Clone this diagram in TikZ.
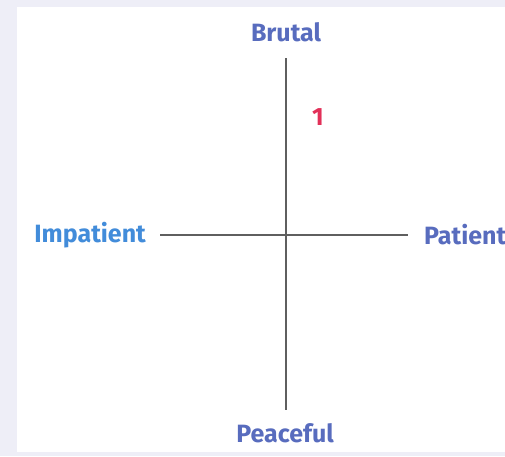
\documentclass[tikz,border=0pt]{standalone}
\usepackage{fontspec}
\setmainfont{Fira Sans}
\usepackage{tikz}
\usetikzlibrary{positioning}
\usepackage{xcolor}
\definecolor{axisblue}{RGB}{88,108,190}
\definecolor{skyblue}{RGB}{66,140,218}
\definecolor{markred}{RGB}{226,48,88}
\definecolor{framebg}{RGB}{238,238,247}
\definecolor{axisgray}{RGB}{95,95,95}

\begin{document}
\begin{tikzpicture}[x=1pt, y=-1pt, every node/.style={font=\bfseries\fontsize{25}{30}\selectfont, text=axisblue, inner sep=0pt}]
  \fill[framebg] (0,0) rectangle (505,456);
  \fill[white] (17,7) rectangle (505,452);
  \useasboundingbox (0,0) rectangle (505,456);
  % axes
  \coordinate (up) at (286,58);
  \coordinate (down) at (286,410);
  \coordinate (lt) at (160,235);
  \coordinate (rt) at (408,235);
  \draw[axisgray, line width=1.6pt] (up) -- (down);
  \draw[axisgray, line width=1.6pt] (lt) -- (rt);
  % labels
  \node (brutal) at (286,32) {Brutal};
  \node (peaceful) at (285,433) {Peaceful};
  \node[text=skyblue, left=14pt of lt] (impatient) {Impatient};
  \node[right=16pt of rt] (patient) {Patient};
  \node[text=markred] (one) at (318,117) {1};
\end{tikzpicture}
\end{document}
